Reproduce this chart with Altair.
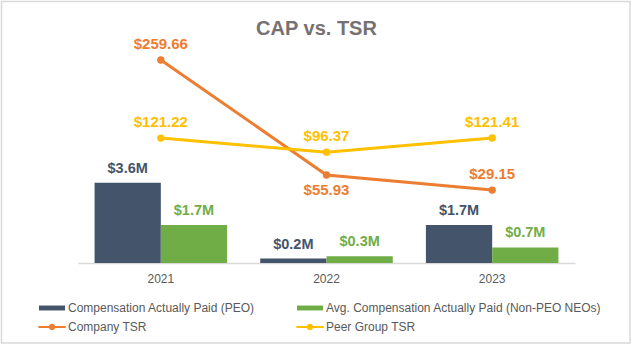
import altair as alt
import pandas as pd

# ---------------- data ----------------
years = ["2021", "2022", "2023"]
cap_peo = [3.6, 0.2, 1.7]            # $M, Compensation Actually Paid (PEO)
cap_neo = [1.7, 0.3, 0.7]            # $M, Avg. CAP (Non-PEO NEOs)
company_tsr = [259.66, 55.93, 29.15]
peer_tsr = [121.22, 96.37, 121.41]

series_names = [
    "Compensation Actually Paid (PEO)",
    "Avg. Compensation Actually Paid (Non-PEO NEOs)",
    "Company TSR",
    "Peer Group TSR",
]
series_colors = ["#44546A", "#70AD47", "#ED7D31", "#FFC000"]

# ---------------- styles ----------------
FONT = "Liberation Sans, Arial, Helvetica, sans-serif"
RECT_SYM = "M-1,-0.19H1V0.19H-1Z"
LINE_SYM = ("M-1.05,-0.08H1.05V0.08H-1.05Z "
            "M0.25,0A0.25,0.25 0 1 1 -0.25,0A0.25,0.25 0 1 1 0.25,0Z")

bar_df = pd.DataFrame({
    "year": years * 2,
    "series": [series_names[0]] * 3 + [series_names[1]] * 3,
    "value": cap_peo + cap_neo,
})
bar_df["label"] = ["$%.1fM" % v for v in bar_df["value"]]

tsr_df = pd.DataFrame({
    "year": years * 2,
    "series": [series_names[2]] * 3 + [series_names[3]] * 3,
    "value": company_tsr + peer_tsr,
})
tsr_df["label"] = ["$%.2f" % v for v in tsr_df["value"]]

color_scale = alt.Scale(domain=series_names, range=series_colors)
shape_scale = alt.Scale(domain=series_names,
                        range=[RECT_SYM, RECT_SYM, LINE_SYM, LINE_SYM])

x_enc = alt.X(
    "year:N",
    sort=years,
    scale=alt.Scale(paddingInner=0.2, paddingOuter=0.1),
    axis=alt.Axis(title=None, labelAngle=0, ticks=False, grid=False,
                  domainColor="#D9D9D9", domainWidth=1.5,
                  labelColor="#595959", labelFont=FONT, labelFontSize=12,
                  labelPadding=10),
)

# ---------------- bars ----------------
bar_base = alt.Chart(bar_df).encode(
    x=x_enc,
    xOffset=alt.XOffset("series:N", sort=series_names[:2],
                        scale=alt.Scale(domain=series_names[:2],
                                        paddingInner=0, paddingOuter=0)),
    y=alt.Y("value:Q", scale=alt.Scale(domain=[0, 10], nice=False, zero=True),
            axis=None),
    color=alt.Color("series:N", scale=color_scale, legend=None),
)
bars = bar_base.mark_bar()
bar_labels = bar_base.mark_text(
    baseline="bottom", dy=-7, font=FONT, fontSize=14.5, fontWeight="bold"
).encode(text="label:N")

# ---------------- TSR lines ----------------
tsr_base = alt.Chart(tsr_df).encode(
    x=x_enc,
    y=alt.Y("value:Q", scale=alt.Scale(domain=[-100, 295], nice=False, zero=False),
            axis=None),
    color=alt.Color("series:N", scale=color_scale, legend=None),
)
lines = tsr_base.mark_line(strokeWidth=3)
pts = tsr_base.mark_point(filled=True, size=55, opacity=1)
below = "datum.series == 'Company TSR' && datum.year == '2022'"
tsr_labels_above = tsr_base.transform_filter("!(" + below + ")").mark_text(
    baseline="bottom", dy=-8, font=FONT, fontSize=15, fontWeight="bold"
).encode(text="label:N")
tsr_labels_below = tsr_base.transform_filter(below).mark_text(
    baseline="top", dy=8, font=FONT, fontSize=15, fontWeight="bold"
).encode(text="label:N")

# ---------------- legend carrier (draws no marks) ----------------
legend_props = dict(
    title=None, orient="none", legendX=-39, legendY=255, columns=2,
    direction="horizontal", symbolSize=676, symbolStrokeWidth=0,
    labelFont=FONT, labelFontSize=12, labelColor="#595959", labelLimit=400,
    labelOffset=3, columnPadding=41, rowPadding=-2, padding=0,
)
legend_layer = alt.Chart(tsr_df).transform_filter("false").mark_point(
    filled=True, opacity=1, size=676
).encode(
    color=alt.Color("series:N", scale=color_scale, legend=alt.Legend(**legend_props)),
    shape=alt.Shape("series:N", scale=shape_scale, legend=alt.Legend(**legend_props)),
)

# ---------------- outer border ----------------
border = alt.Chart(pd.DataFrame({"k": [0]})).mark_rect(
    fill="transparent", stroke="#D9D9D9", strokeWidth=1.5
).encode(
    x=alt.value(-76.5), x2=alt.value(552),
    y=alt.value(-38.5), y2=alt.value(303),
)

bar_group = alt.layer(bars, bar_labels)
tsr_group = alt.layer(lines, pts, tsr_labels_above, tsr_labels_below)

chart = alt.layer(border, legend_layer, bar_group, tsr_group).resolve_scale(
    y="independent"
).properties(
    width=497, height=223,
    padding={"left": 78, "top": 40, "right": 57, "bottom": 83},
    autosize=alt.AutoSizeParams(type="none"),
    title=alt.TitleParams("CAP vs. TSR", font=FONT, fontSize=20,
                          fontWeight="bold", color="#767171",
                          anchor="middle", frame="group", dx=-10, offset=-38),
).configure(background="white").configure_view(stroke=None)

chart.save("out.html", embed_options={"renderer": "svg", "actions": False})
